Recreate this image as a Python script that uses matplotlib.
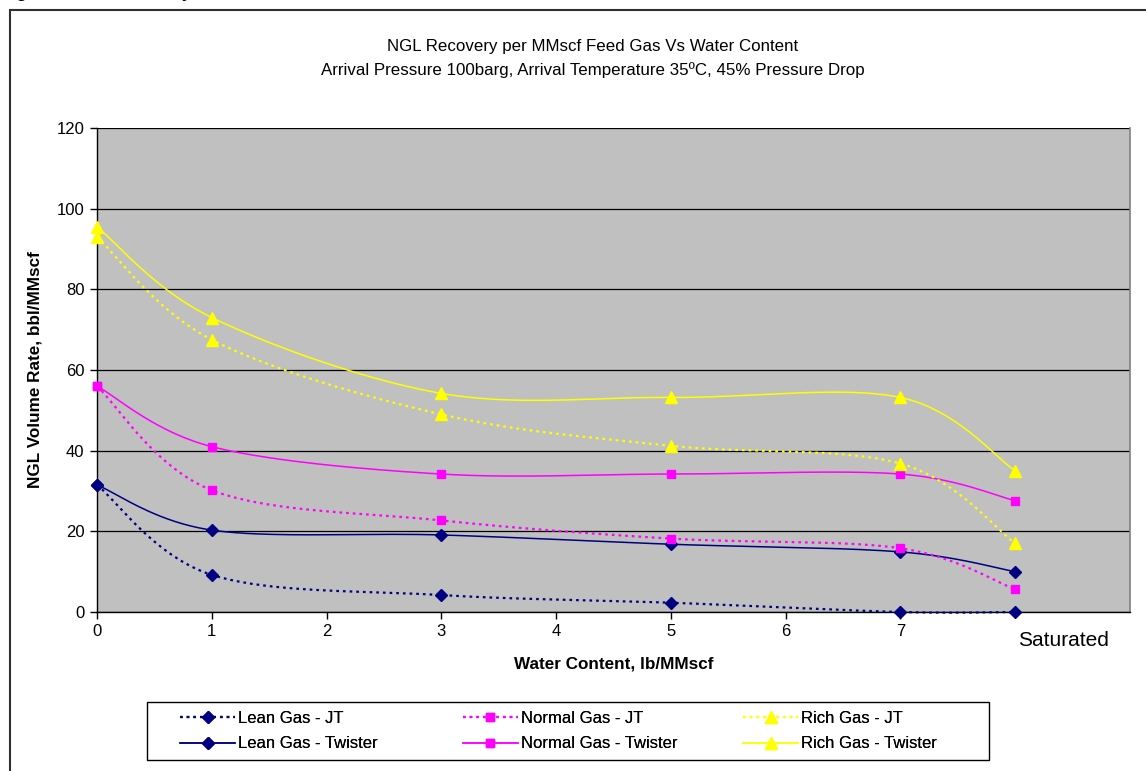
import matplotlib
matplotlib.use("Agg")
import matplotlib.pyplot as plt
import numpy as np
from matplotlib.patches import Rectangle
from matplotlib.transforms import blended_transform_factory

plt.rcParams["font.family"] = ["Liberation Sans", "DejaVu Sans"]

W, H = 1146, 771

# Water content positions (8 = "Saturated")
water = [0, 1, 3, 5, 7, 8]

lean_jt = [31.5, 9.2, 4.2, 2.3, 0.0, 0.0]
lean_twister = [31.5, 20.3, 19.1, 16.8, 14.9, 10.0]
normal_jt = [56.0, 30.2, 22.7, 18.2, 15.8, 5.6]
normal_twister = [56.0, 41.0, 34.2, 34.2, 34.2, 27.6]
rich_jt = [93.0, 67.5, 49.0, 41.2, 36.8, 17.0]
rich_twister = [95.5, 73.0, 54.2, 53.2, 53.2, 35.0]

x_ticks = [0, 1, 2, 3, 4, 5, 6, 7]
y_ticks = [0, 20, 40, 60, 80, 100, 120]

NAVY = "#000080"
MAGENTA = "#FF00FF"
YELLOW = "#FFFF00"


def smooth(xs, ys, n=40):
    """Excel-style smoothed line: cubic Bezier segments with 1/6 tangents."""
    pts = np.column_stack([xs, ys]).astype(float)
    ext = np.vstack([pts[0], pts, pts[-1]])
    t = np.linspace(0, 1, n)[:, None]
    out = []
    for i in range(len(pts) - 1):
        p0 = ext[i + 1]
        p3 = ext[i + 2]
        c1 = p0 + (ext[i + 2] - ext[i]) / 6
        c2 = p3 - (ext[i + 3] - ext[i + 1]) / 6
        seg = ((1 - t) ** 3) * p0 + 3 * ((1 - t) ** 2) * t * c1 + 3 * (1 - t) * t ** 2 * c2 + t ** 3 * p3
        out.append(seg if i == 0 else seg[1:])
    seg = np.vstack(out)
    return seg[:, 0], seg[:, 1]


fig = plt.figure(figsize=(W / 100, H / 100), dpi=100)
ax = fig.add_axes([97 / W, 1 - 612 / H, (1130 - 97) / W, (612 - 128) / H])
ax.set_facecolor("#C0C0C0")

series = [
    ("Lean Gas - JT", lean_jt, NAVY, "D", 6, ":"),
    ("Lean Gas - Twister", lean_twister, NAVY, "D", 6, "-"),
    ("Normal Gas - JT", normal_jt, MAGENTA, "s", 6, ":"),
    ("Normal Gas - Twister", normal_twister, MAGENTA, "s", 6, "-"),
    ("Rich Gas - JT", rich_jt, YELLOW, "^", 8, ":"),
    ("Rich Gas - Twister", rich_twister, YELLOW, "^", 8, "-"),
]

handles = []
for label, ys, color, marker, ms, ls in series:
    sx, sy = smooth(water, ys)
    dash = (0, (1.2, 1.8)) if ls == ":" else "-"
    lw = 1.6 if ls == ":" else 1.1
    ax.plot(sx, sy, color=color, lw=lw, linestyle=dash, zorder=3, clip_on=False)
    ax.plot(water, ys, linestyle="none", marker=marker, ms=ms, color=color,
            mec=color, zorder=4, clip_on=False)
    h, = ax.plot([], [], color=color, lw=lw, linestyle=dash, marker=marker,
                 ms=ms, mec=color, label=label)
    handles.append(h)

ax.set_xlim(0, 9)
ax.set_ylim(0, 120)
ax.set_xticks(x_ticks)
ax.set_yticks(y_ticks)
ax.tick_params(axis="both", labelsize=12, length=5, width=1, color="black", pad=4)
ax.yaxis.grid(True, color="black", lw=0.9)
ax.set_axisbelow(True)
for side in ("left", "bottom"):
    ax.spines[side].set_color("black")
    ax.spines[side].set_linewidth(1.0)
ax.spines["top"].set_visible(False)
ax.spines["right"].set_color("#808080")
ax.spines["right"].set_linewidth(1.2)

trans = blended_transform_factory(ax.transData, ax.transAxes)
ax.text(8.42, -0.058, "Saturated", transform=trans, ha="center", va="center", fontsize=15)

ax.set_xlabel("Water Content, lb/MMscf", fontsize=12.3, fontweight="bold", labelpad=12)
ax.set_ylabel("NGL Volume Rate, bbl/MMscf", fontsize=12.3, fontweight="bold", labelpad=10)

fig.text(593 / W, 1 - 47 / H, "NGL Recovery per MMscf Feed Gas Vs Water Content",
         ha="center", va="center", fontsize=12.2)
fig.text(593 / W, 1 - 70 / H,
         "Arrival Pressure 100barg, Arrival Temperature 35\u00baC, 45% Pressure Drop",
         ha="center", va="center", fontsize=12.2)

# cropped heading at the very top of the page
fig.text(2 / W, 1 + 2 / H, "Figure 5: NGL Recovery", ha="left", va="baseline",
         fontsize=12, fontweight="bold")

# outer chart border
fig.patches.append(Rectangle((10 / W, -0.05), 1.2, 1 - 10 / H + 0.05,
                             transform=fig.transFigure, fill=False,
                             ec="#303030", lw=1.5))

# legend: frame plus one column per gas type
fig.patches.append(Rectangle((147 / W, 1 - 760 / H), (989 - 147) / W, 58 / H,
                             transform=fig.transFigure, fill=False,
                             ec="black", lw=1.0))
for col, x0 in enumerate([180, 463, 743]):
    leg = fig.legend(handles=handles[2 * col:2 * col + 2], loc="upper left",
                     bbox_to_anchor=(x0 / W, 1 - 711 / H), borderaxespad=0,
                     borderpad=0, fontsize=12, handlelength=3.3,
                     handletextpad=0.2, labelspacing=0.62, frameon=False)
    fig.add_artist(leg)

fig.savefig("out.png", dpi=100)
